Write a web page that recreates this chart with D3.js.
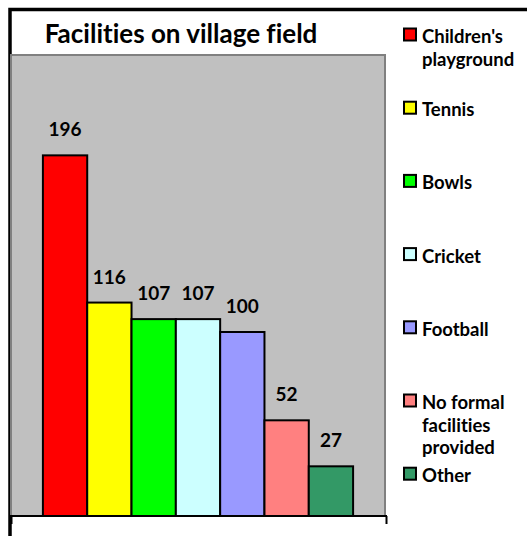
<!DOCTYPE html>
<html>
<head>
<meta charset="utf-8">
<script src="https://cdn.jsdelivr.net/npm/d3@7"></script>
<style>
  body { margin: 0; background: #fff; }
  text { font-family: Lato, sans-serif; font-weight: bold; fill: #000; font-variant-ligatures: none; }
</style>
</head>
<body>
<div id="chart"></div>
<script>
const categories = ["Children's playground", "Tennis", "Bowls", "Cricket", "Football", "No formal facilities provided", "Other"];
const values = [196, 116, 107, 107, 100, 52, 27];
const colors = ["#FF0000", "#FFFF00", "#00FF00", "#CCFFFF", "#9999FF", "#FF8080", "#339966"];
const legendLines = [["Children's", "playground"], ["Tennis"], ["Bowls"], ["Cricket"], ["Football"], ["No formal", "facilities", "provided"], ["Other"]];
const yMax = 250;

const width = 527, height = 536;
const plot = ({left: 11, top: 55, right: 385, bottom: 516});

const svg = d3.select("#chart")
    .append("svg")
    .attr("width", width)
    .attr("height", height);

// outer chart frame (runs off the right and bottom edges)
svg.append("rect")
    .attr("x", 10)
    .attr("y", 9.5)
    .attr("width", 600)
    .attr("height", 600)
    .attr("fill", "#fff")
    .attr("stroke", "#000")
    .attr("stroke-width", 3.5);

svg.append("text")
    .attr("x", 181)
    .attr("y", 43)
    .attr("text-anchor", "middle")
    .attr("font-size", 26)
    .text("Facilities on village field");

// plot area
svg.append("rect")
    .attr("x", plot.left)
    .attr("y", plot.top)
    .attr("width", plot.right - plot.left)
    .attr("height", plot.bottom - plot.top)
    .attr("fill", "#C0C0C0")
    .attr("stroke", "#808080")
    .attr("stroke-width", 2);

const x = d3.scaleBand()
    .domain(categories)
    .range([plot.left, plot.right])
    .paddingInner(0)
    .paddingOuter(0.72);

const y = d3.scaleLinear()
    .domain([0, yMax])
    .range([plot.bottom, plot.top + 1]);

svg.append("g")
    .attr("stroke", "#000")
    .attr("stroke-width", 2)
    .selectAll("rect")
    .data(values)
    .join("rect")
    .attr("x", (d, i) => x(categories[i]))
    .attr("y", d => y(d))
    .attr("width", x.bandwidth())
    .attr("height", d => y(0) - y(d))
    .attr("fill", (d, i) => colors[i]);

svg.append("g")
    .attr("font-size", 19)
    .attr("text-anchor", "middle")
    .selectAll("text")
    .data(values)
    .join("text")
    .attr("x", (d, i) => x(categories[i]) + x.bandwidth() / 2)
    .attr("y", d => y(d) - 19)
    .text(d => d);

// category axis: line along the bottom with tick marks at both ends
const xAxis = d3.axisBottom(d3.scaleLinear().domain([0, 1]).range([plot.left, plot.right + 1]))
    .tickValues([0, 1])
    .tickSize(8)
    .tickFormat("");

svg.append("g")
    .attr("transform", `translate(0,${plot.bottom})`)
    .call(xAxis)
    .call(g => g.select(".domain").attr("stroke", "#000").attr("stroke-width", 2).attr("d", `M${plot.left - 1},0H${plot.right + 2}`))
    .call(g => g.selectAll(".tick line").attr("stroke", "#000").attr("stroke-width", 2));

// legend
const legendStep = 73.2;
const legend = svg.append("g")
    .selectAll("g")
    .data(legendLines)
    .join("g")
    .attr("transform", (d, i) => `translate(404,${35 + i * legendStep})`);

legend.append("rect")
    .attr("x", 0)
    .attr("y", -6.5)
    .attr("width", 12)
    .attr("height", 12)
    .attr("fill", (d, i) => colors[i])
    .attr("stroke", "#000")
    .attr("stroke-width", 2);

legend.append("text")
    .attr("font-size", 18.5)
    .attr("y", 8)
    .selectAll("tspan")
    .data(d => d)
    .join("tspan")
    .attr("x", 18)
    .attr("dy", (d, i) => i ? 22.5 : 0)
    .text(d => d);
</script>
</body>
</html>
